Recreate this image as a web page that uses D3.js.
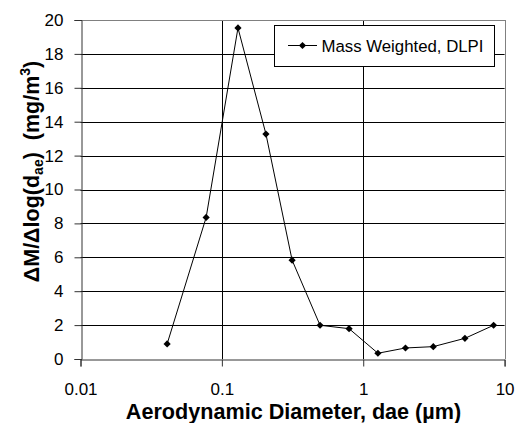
<!DOCTYPE html>
<html>
<head>
<meta charset="utf-8">
<script src="https://cdn.jsdelivr.net/npm/d3@7"></script>
<style>
  html, body { margin: 0; padding: 0; background: #fff; }
  svg { display: block; }
  text { font-family: "Liberation Sans", Arial, sans-serif; fill: #000; }
</style>
</head>
<body>
<svg id="chart" width="518" height="423"></svg>
<script>
// ---- data ----
const diameters = [0.041, 0.0774, 0.130, 0.205, 0.314, 0.495, 0.794, 1.27, 1.99, 3.13, 5.24, 8.36];
const massWeighted = [0.89, 8.35, 19.53, 13.27, 5.83, 1.99, 1.79, 0.34, 0.65, 0.73, 1.22, 1.99];
const xTickValues = [0.01, 0.1, 1, 10];
const xTickLabels = ["0.01", "0.1", "1", "10"];
const yTickValues = [0, 2, 4, 6, 8, 10, 12, 14, 16, 18, 20];
const seriesName = "Mass Weighted, DLPI";

// ---- layout ----
const svg = d3.select("#chart");
const pL = 80.5, pR = 504.6, pT = 20, pB = 359;

const x = d3.scaleLog().domain([0.01, 10]).range([pL, pR]);
const y = d3.scaleLinear().domain([0, 20]).range([pB, pT]);

// horizontal gridlines
svg.append("g").selectAll("line")
  .data(yTickValues.filter(v => v > 0 && v < 20))
  .join("line")
  .attr("x1", pL).attr("x2", pR)
  .attr("y1", d => Math.round(y(d)) + 0.5).attr("y2", d => Math.round(y(d)) + 0.5)
  .attr("stroke", "#000").attr("stroke-width", 1);

// vertical gridlines
svg.append("g").selectAll("line")
  .data(xTickValues.filter(v => v > 0.01 && v < 10))
  .join("line")
  .attr("x1", d => Math.round(x(d)) + 0.5).attr("x2", d => Math.round(x(d)) + 0.5)
  .attr("y1", pT).attr("y2", pB)
  .attr("stroke", "#000").attr("stroke-width", 1);

// plot frame top & right (gray)
svg.append("line").attr("x1", pL).attr("x2", Math.round(pR) + 0.5)
  .attr("y1", pT + 0.5).attr("y2", pT + 0.5).attr("stroke", "#808080");
svg.append("line").attr("x1", Math.round(pR) + 0.5).attr("x2", Math.round(pR) + 0.5)
  .attr("y1", pT).attr("y2", pB).attr("stroke", "#808080");

// y axis
const yAxis = d3.axisLeft(y).tickValues(yTickValues).tickSize(7).tickPadding(11)
  .tickFormat(d3.format("d"));
const gy = svg.append("g").attr("transform", `translate(${Math.round(pL) + 0.5},0)`).call(yAxis);
gy.select(".domain").attr("stroke", "#333");
gy.selectAll(".tick line").attr("stroke", "#333");
gy.selectAll(".tick text").attr("font-size", "17px").attr("font-family", '"Liberation Sans", Arial, sans-serif').attr("fill", "#000");

// x axis
const xAxis = d3.axisBottom(x).tickValues(xTickValues).tickSize(7).tickPadding(16)
  .tickFormat((d, i) => xTickLabels[i]);
const gx = svg.append("g").attr("transform", `translate(0,${Math.round(pB) + 0.5})`).call(xAxis);
gx.select(".domain").attr("stroke", "#333");
gx.selectAll(".tick line").attr("stroke", "#333");
gx.selectAll(".tick text").attr("font-size", "17px").attr("font-family", '"Liberation Sans", Arial, sans-serif').attr("fill", "#000");

// series line
const pts = diameters.map((d, i) => [d, massWeighted[i]]);
svg.append("path")
  .datum(pts)
  .attr("fill", "none").attr("stroke", "#000").attr("stroke-width", 1)
  .attr("d", d3.line().x(d => x(d[0])).y(d => y(d[1])));

// diamond markers
const diamond = (r) => `M0,${-r}L${r},0L0,${r}L${-r},0Z`;
svg.append("g").selectAll("path")
  .data(pts)
  .join("path")
  .attr("transform", d => `translate(${x(d[0])},${y(d[1])})`)
  .attr("d", diamond(3.6))
  .attr("fill", "#000");

// legend
const lg = svg.append("g");
lg.append("rect").attr("x", 274.5).attr("y", 25.5).attr("width", 220).attr("height", 41)
  .attr("fill", "#fff").attr("stroke", "#000").attr("stroke-width", 1);
lg.append("line").attr("x1", 288).attr("x2", 317).attr("y1", 45.5).attr("y2", 45.5)
  .attr("stroke", "#000");
lg.append("path").attr("transform", "translate(302.5,45.5)").attr("d", diamond(3.6)).attr("fill", "#000");
lg.append("text").attr("x", 321.5).attr("y", 52).attr("font-size", "16.8px").text(seriesName);

// x axis title
svg.append("text")
  .attr("x", 293.5).attr("y", 418.5)
  .attr("text-anchor", "middle")
  .attr("font-size", "21.6px").attr("font-weight", "bold")
  .text("Aerodynamic Diameter, dae (\u00B5m)");

// y axis title (rotated) with subscript / superscript
const yt = svg.append("text")
  .attr("transform", "translate(38.5,171.5) rotate(-90)")
  .attr("text-anchor", "middle")
  .attr("font-size", "21.5px").attr("font-weight", "bold");
yt.append("tspan").text("\u0394M/\u0394log(d");
yt.append("tspan").attr("font-size", "14px").attr("dy", "4").text("ae");
yt.append("tspan").attr("dy", "-4").text(")\u00A0\u00A0(mg/m");
yt.append("tspan").attr("font-size", "14px").attr("dy", "-9").text("3");
yt.append("tspan").attr("dy", "9").text(")");
</script>
</body>
</html>
